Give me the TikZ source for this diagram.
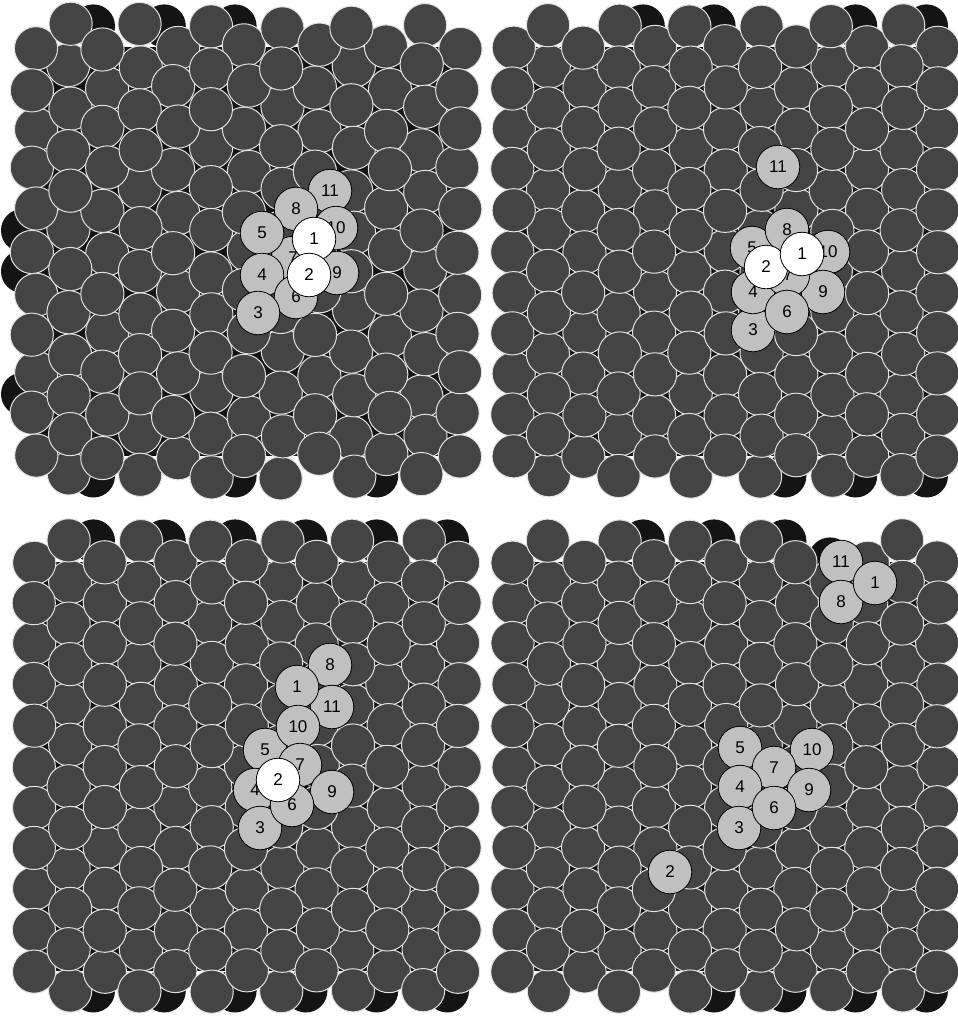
\documentclass[tikz,border=0pt]{standalone}
\usepackage{fontspec}
\setmainfont{Liberation Sans}
\definecolor{disk}{HTML}{444444}
\definecolor{rim}{HTML}{E2E2E2}
\definecolor{under}{HTML}{141414}
\definecolor{tag}{HTML}{C0C0C0}
\tikzset{
  grain/.style={fill=disk, draw=rim, line width=1pt},
  lowgrain/.style={fill=under},
  tagged/.style={circle, minimum size=43.5pt, inner sep=0pt, fill=tag, draw=black, line width=0.8pt, font=\fontsize{17}{17}\selectfont},
  marked/.style={tagged, fill=white},
}
\begin{document}
\begin{tikzpicture}[x=1pt,y=-1pt]
\useasboundingbox (0,0) rectangle (958,1021);
\fill[white] (0,0) rectangle (958,1021);
% lower layer grains peeking out at the edges
\foreach \p/\k/\j in {1/1/0,1/3/0,1/5/0,1/1/11,1/5/11,1/9/11,1/-1/5,1/-1/6,1/-1/9,
                      2/3/0,2/5/0,2/9/0,2/11/0,2/7/11,2/9/11,2/11/11,
                      3/1/0,3/3/0,3/5/0,3/7/0,3/9/0,3/11/0,
                      3/1/11,3/3/11,3/5/11,3/7/11,3/9/11,3/11/11,
                      4/3/0,4/5/0,4/7/0,4/5/11,4/7/11,4/9/11,4/11/11}{
  \pgfmathsetmacro\ox{\p==2 || \p==4 ? 479 : 0}
  \pgfmathsetmacro\oy{\p>2 ? 515 : 0}
  \fill[lowgrain] (\ox+58+35.4*\k,\oy+26+40.9*\j) circle[radius=21.6];
}
\fill[lowgrain] (830,559) circle[radius=21.6];
% upper layer
\foreach \p/\ox/\oy/\amp in {1/0/0/2.5,2/479/0/0.8,3/0/515/0.8,4/479/515/0.8}{
  \fill[lowgrain] (\ox+34,\oy+47) rectangle (\ox+459,\oy+456);
  \foreach \pass in {0,1}{
    \foreach \k in {0,...,12}{
      \pgfmathtruncatemacro\odd{mod(\k,2)}
      \pgfmathtruncatemacro\last{10+\odd}
      \pgfmathsetmacro\ytop{\odd==1 ? 26 : 47}
      \foreach \j in {0,...,\last}{
        \pgfmathtruncatemacro\side{sin(\k*53.7+\j*113.1+\p*17.3)>0}
        \pgfmathtruncatemacro\gone{and(and(\p==4,\k==9),\j==0)}
        \ifnum\side=\pass\relax\ifnum\gone=0\relax
          \pgfmathsetmacro\cx{\ox+34+35.4*\k+\amp*sin(\k*97.1+\j*181.3+\p*53.9)}
          \pgfmathsetmacro\cy{\oy+\ytop+40.9*\j+\amp*sin(\k*211.7+\j*67.9+\p*31.1)}
          \draw[grain] (\cx,\cy) circle[radius=21.6];
        \fi\fi
      }
    }
  }
}
% panel 1
\node[tagged] (a11) at (330,191) {11};
\node[tagged] (a8) at (296,209) {8};
\node[tagged] (a10) at (336,228) {10};
\node[tagged] (a9) at (337,273) {9};
\node[tagged] (a7) at (293,258) {7};
\node[tagged] (a5) at (262,233) {5};
\node[tagged] (a4) at (262,275) {4};
\node[tagged] (a6) at (296,297) {6};
\node[tagged] (a3) at (258,313) {3};
\node[marked] (a1) at (314,239) {1};
\node[marked] (a2) at (309,275) {2};
% panel 2
\node[tagged] (b11) at (778,167) {11};
\node[tagged] (b3) at (753,330) {3};
\node[tagged] (b4) at (753,292) {4};
\node[tagged] (b5) at (752,248) {5};
\node[tagged] (b8) at (787,230) {8};
\node[tagged] (b10) at (828,252) {10};
\node[tagged] (b9) at (823,292) {9};
\node[tagged] (b7) at (788,275) {7};
\node[tagged] (b6) at (787,312) {6};
\node[marked] (b2) at (766,267) {2};
\node[marked] (b1) at (802,254) {1};
% panel 3
\node[tagged] (c8) at (330,665) {8};
\node[tagged] (c11) at (332,707) {11};
\node[tagged] (c1) at (297,687) {1};
\node[tagged] (c5) at (265,750) {5};
\node[tagged] (c10) at (298,727) {10};
\node[tagged] (c7) at (300,765) {7};
\node[tagged] (c9) at (332,792) {9};
\node[tagged] (c4) at (255,790) {4};
\node[tagged] (c3) at (260,828) {3};
\node[tagged] (c6) at (292,805) {6};
\node[marked] (c2) at (278,780) {2};
% panel 4
\node[tagged] (d11) at (841,562) {11};
\node[tagged] (d8) at (841,602) {8};
\node[tagged] (d1) at (875,583) {1};
\node[tagged] (d5) at (740,748) {5};
\node[tagged] (d10) at (812,750) {10};
\node[tagged] (d7) at (774,768) {7};
\node[tagged] (d4) at (740,787) {4};
\node[tagged] (d9) at (809,790) {9};
\node[tagged] (d3) at (739,828) {3};
\node[tagged] (d6) at (774,808) {6};
\node[tagged] (d2) at (670,872) {2};
\end{tikzpicture}
\end{document}
